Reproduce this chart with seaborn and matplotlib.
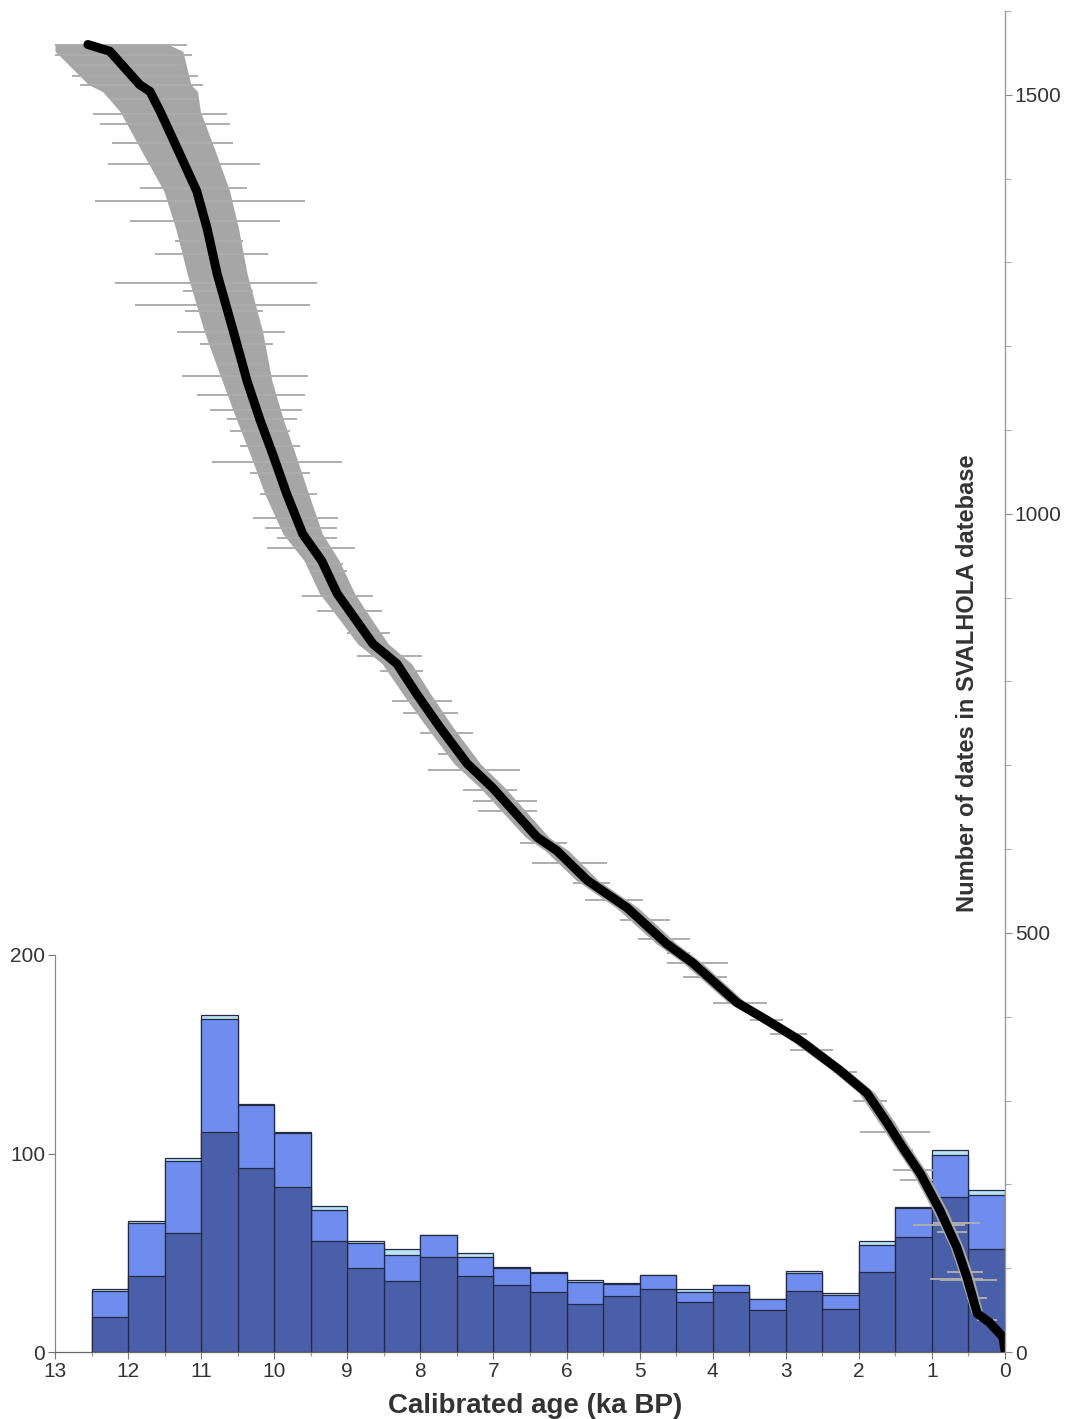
import numpy as np
import matplotlib
matplotlib.use("Agg")
import matplotlib.pyplot as plt
from matplotlib.ticker import MultipleLocator
import seaborn as sns

# histogram of calibrated ages, 0.5 ka bins (upper bin edge, oldest first)
bin_start = [12.5, 12.0, 11.5, 11.0, 10.5, 10.0, 9.5, 9.0, 8.5, 8.0, 7.5, 7.0,
             6.5, 6.0, 5.5, 5.0, 4.5, 4.0, 3.5, 3.0, 2.5, 2.0, 1.5, 1.0, 0.5]
# bar tops of the three overlaid layers
top_light = [31.5, 65.8, 97.7, 169.8, 124.8, 110.7, 73.8, 55.7, 52.0, 59.1, 49.8, 42.8,
             40.1, 36.1, 34.9, 38.9, 31.7, 33.9, 26.8, 40.6, 29.7, 55.7, 73.0, 101.7, 81.7]
top_mid = [30.5, 64.9, 96.0, 167.8, 124.2, 110.2, 71.6, 54.9, 49.0, 58.7, 47.7, 42.4,
           39.6, 35.4, 34.1, 38.6, 30.0, 33.6, 26.5, 39.9, 28.5, 54.0, 72.5, 99.3, 78.9]
top_dark = [17.8, 38.1, 59.9, 111.0, 92.6, 82.9, 55.7, 42.3, 35.9, 47.7, 38.1, 33.9,
            30.0, 24.0, 28.0, 31.9, 25.0, 30.0, 21.3, 30.9, 21.8, 40.1, 57.9, 77.9, 51.8]

# cumulative curve of sorted dates (age in ka BP, rank in database)
curve_age = [12.55, 12.25, 11.84, 11.70, 11.56, 11.29, 11.06, 10.92, 10.78, 10.56, 10.37,
             10.19, 10.02, 9.83, 9.61, 9.35, 9.14, 8.87, 8.65, 8.32, 8.05, 7.73, 7.36,
             7.01, 6.40, 6.13, 5.72, 5.17, 4.63, 4.27, 3.67, 3.26, 2.81, 2.26, 1.89,
             1.61, 1.40, 1.16, 0.89, 0.66, 0.52, 0.38, 0.21, 0.03, 0.0]
curve_n = [1560, 1552, 1512, 1504, 1480, 1429, 1385, 1341, 1286, 1218, 1158,
           1111, 1071, 1024, 976, 944, 905, 872, 845, 821, 785, 745, 702,
           673, 614, 598, 563, 530, 487, 464, 417, 396, 372, 336, 309,
           273, 244, 213, 169, 125, 89, 46, 35, 18, 2]
# typical half-width of the dense error band around the curve (ka)
band_hw = [1.1, 1.0, 0.7, 0.65, 0.55, 0.5, 0.45, 0.43, 0.41, 0.40, 0.34,
           0.32, 0.31, 0.30, 0.27, 0.24, 0.24, 0.22, 0.21, 0.20, 0.19, 0.18, 0.18,
           0.17, 0.16, 0.16, 0.15, 0.15, 0.14, 0.13, 0.12, 0.12, 0.12, 0.11, 0.11,
           0.11, 0.10, 0.10, 0.10, 0.09, 0.09, 0.08, 0.07, 0.05, 0.03]

# individual error bars that stick out of the band
whisk_n = [1560, 1548, 1536, 1522, 1512, 1495, 1477, 1465, 1442, 1418, 1389, 1373,
           1349, 1325, 1310, 1275, 1266, 1249, 1242, 1217, 1203, 1179, 1164, 1142,
           1124, 1113, 1099, 1081, 1062, 1049, 1024, 995, 983, 971, 959, 940, 932,
           902, 884, 858, 831, 813, 777, 762, 738, 714, 694, 670, 658, 646, 607,
           584, 559, 539, 515, 493, 476, 464, 447, 416, 396, 380, 360, 334, 300,
           263, 241, 217, 205, 154, 151, 143, 95, 87, 86, 64, 38]
whisk_old = [13.0, 13.0, 12.75, 12.77, 12.66, 12.25, 12.48, 12.38, 12.22, 12.27, 11.84,
             12.45, 11.97, 11.36, 11.63, 12.18, 11.25, 11.90, 11.22, 11.33, 11.02,
             10.77, 11.26, 11.06, 10.88, 10.65, 10.60, 10.47, 10.85, 10.33, 10.19,
             10.29, 10.13, 9.96, 10.10, 9.55, 9.51, 9.62, 9.41, 9.00, 8.87, 8.55,
             8.39, 8.24, 8.00, 7.76, 7.90, 7.42, 7.28, 7.21, 6.64, 6.47, 5.91, 5.75,
             5.27, 5.02, 4.63, 4.63, 4.41, 4.00, 3.49, 3.22, 2.94, 2.35, 2.08, 1.98,
             1.48, 1.53, 1.44, 0.99, 1.26, 0.93, 0.79, 1.03, 0.89, 0.52, 0.38]
whisk_young = [11.19, 11.12, 11.25, 11.04, 10.97, 11.06, 10.65, 10.60, 10.56, 10.19,
               10.37, 9.58, 9.92, 10.43, 10.08, 9.41, 10.29, 9.51, 10.15, 9.85, 10.02,
               10.15, 9.54, 9.58, 9.62, 9.69, 9.78, 9.65, 9.07, 9.51, 9.41, 9.13, 9.14,
               9.14, 8.89, 9.06, 9.00, 8.65, 8.52, 8.42, 7.98, 7.96, 7.57, 7.48, 7.28,
               7.28, 6.64, 6.68, 6.40, 6.40, 5.99, 5.45, 5.41, 4.95, 4.58, 4.31, 4.31,
               3.79, 3.80, 3.26, 3.04, 2.71, 2.35, 2.03, 1.61, 1.03, 1.26, 0.99, 0.99,
               0.34, 0.55, 0.52, 0.30, 0.30, 0.11, 0.25, 0.11]

sns.set_style("white")
plt.rcParams['font.family'] = ['Liberation Sans', 'DejaVu Sans']

fig = plt.figure(figsize=(10.66, 14.19), dpi=100)
ax = fig.add_axes([55 / 1066, 67 / 1419, 950 / 1066, 1341 / 1419])

centers = [b - 0.25 for b in bin_start]
edges = sorted(bin_start + [0.0])
layers = [(top_light, '#b9e2f4'), (top_mid, '#6f8def'), (top_dark, '#4a5fa9')]
for tops, col in layers:
    sns.histplot(x=centers, weights=tops, bins=edges, ax=ax, color=col, alpha=1,
                 edgecolor='#262a40', linewidth=0.9)

ax.set_xlim(13, 0)
ax.set_ylim(0, 200 * 1341 / 397)
ax.set_xlabel('')
ax.set_ylabel('')
ax.set_xticks(range(13, -1, -1))
ax.set_xticklabels([str(v) for v in range(13, -1, -1)])
ax.xaxis.set_minor_locator(MultipleLocator(0.5))
ax.set_yticks([0, 100, 200])
ax.tick_params(axis='both', which='major', direction='out', length=5, width=0.8,
               labelsize=15, colors='#777777', labelcolor='#333333', pad=2)
ax.tick_params(axis='x', which='minor', direction='out', length=3, width=0.8,
               colors='#999999', bottom=True)
ax.tick_params(axis='x', bottom=True)
ax.tick_params(axis='y', left=True)
for s in ['top', 'right']:
    ax.spines[s].set_visible(False)
ax.spines['left'].set_bounds(0, 200)
ax.spines['left'].set_color('#888888')
ax.spines['bottom'].set_color('#666666')
ax.spines['left'].set_linewidth(0.9)
ax.spines['bottom'].set_linewidth(0.9)

ax2 = ax.twinx()
age = np.array(curve_age)
hw = np.array(band_hw)
ax2.fill_betweenx(curve_n, np.minimum(age + hw, 13), np.maximum(age - hw, 0),
                  color='#a6a6a6', linewidth=0)
ax2.hlines(whisk_n, whisk_young, whisk_old, color='#adadad', linewidth=1.4)
sns.lineplot(x=curve_age, y=curve_n, sort=False, estimator=None, ax=ax2,
             color='black', linewidth=6.5, solid_capstyle='round')
ax2.set_ylim(0, 1600)
ax2.set_xlim(13, 0)
ax2.set_yticks([0, 500, 1000, 1500])
ax2.yaxis.set_minor_locator(MultipleLocator(100))
ax2.tick_params(axis='y', which='major', direction='out', length=5, width=0.8,
                labelsize=15, colors='#888888', labelcolor='#333333', pad=2, right=True)
ax2.tick_params(axis='y', which='minor', direction='out', length=4, width=0.8,
                colors='#aaaaaa', right=True)
for s in ['top', 'left', 'bottom']:
    ax2.spines[s].set_visible(False)
ax2.spines['right'].set_bounds(0, 1600)
ax2.spines['right'].set_color('#999999')
ax2.spines['right'].set_linewidth(1.0)
ax2.set_ylabel('')

fig.text(968 / 1066, 1 - 683 / 1419, 'Number of dates in SVALHOLA datebase',
         rotation=90, ha='center', va='center', fontsize=17, fontweight='bold',
         color='#333333')
fig.text(535 / 1066, 1 - 1406 / 1419, 'Calibrated age (ka BP)', ha='center',
         va='center', fontsize=20, fontweight='bold', color='#333333')

fig.savefig('out.png', dpi=100)
